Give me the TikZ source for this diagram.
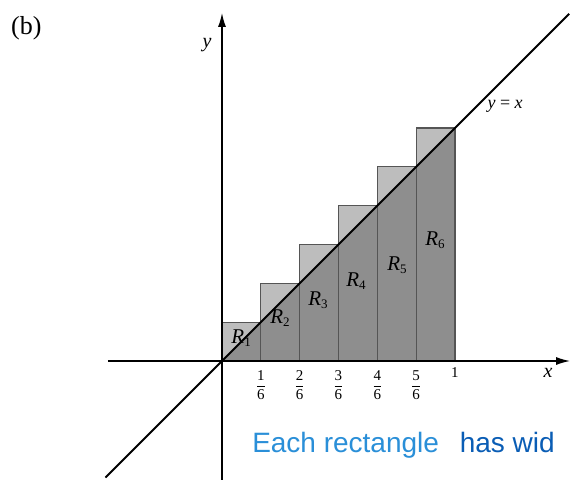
\documentclass[tikz,border=0pt]{standalone}
\usepackage{fontspec}
\setmainfont{Liberation Serif}
\newfontfamily\handfont{Liberation Sans}
\definecolor{darkfill}{HTML}{8E8E8E}
\definecolor{lightfill}{HTML}{BDBDBD}
\definecolor{rectline}{HTML}{555555}
\definecolor{penlight}{HTML}{2A8FD8}
\definecolor{pendark}{HTML}{0A5DB5}
\newcommand{\sixthfrac}[1]{$\displaystyle{\hbox{#1}\over\hbox{6}}$}
\begin{document}
\begin{tikzpicture}[x=233pt,y=233pt,
  axisline/.style={line width=1.4pt,-{Latex[length=14pt,width=8pt]}},
  diagline/.style={line width=1.8pt},
  rectedge/.style={draw=rectline,line width=1.2pt},
  rlabel/.style={font=\fontsize{21}{21}\selectfont,text=black,inner sep=0pt},
  ticklabel/.style={font=\fontsize{15}{18}\selectfont,inner sep=0pt},
  handtext/.style={font=\handfont\fontsize{28}{28}\selectfont,anchor=base west,inner sep=0pt}]
\usetikzlibrary{arrows.meta}
\clip (-0.9528,-0.5408) rectangle (1.4979,1.5494);
\fill[white] (-0.9528,-0.5408) rectangle (1.4979,1.5494);
% rectangles
\foreach \k in {1,...,6}{
  \pgfmathsetmacro{\a}{(\k-1)/6}
  \pgfmathsetmacro{\b}{\k/6}
  \fill[darkfill] (\a,0) -- (\b,0) -- (\b,\b) -- (\a,\a) -- cycle;
  \fill[lightfill] (\a,\a) -- (\a,\b) -- (\b,\b) -- cycle;
  \draw[rectedge] (\a,0) rectangle (\b,\b);
}
% axes
\coordinate (O) at (0,0);
\coordinate (xl) at (-0.49,0);
\coordinate (xr) at (1.494,0);
\coordinate (yb) at (0,-0.51);
\coordinate (yt) at (0,1.494);
\coordinate (dl) at (-0.5,-0.5);
\coordinate (dr) at (1.49,1.49);
\draw[axisline] (xl) -- (xr);
\draw[axisline] (yb) -- (yt);
\draw[diagline] (dl) -- (dr);
% labels
\node (b) at (-0.84,1.43) {\fontsize{26}{26}\selectfont (b)};
\node (ylab) at (-0.064,1.356) {\fontsize{20}{20}\selectfont\textit{y}};
\node (xlab) at (1.399,-0.052) {\fontsize{20}{20}\selectfont\textit{x}};
\node (yx) at (1.215,1.094) {\fontsize{18}{18}\selectfont\textit{y} = \textit{x}};
\foreach \k in {1,...,5}{
  \node[ticklabel] (t\k) at (\k/6,-0.103) {\sixthfrac{\k}};
}
\node[ticklabel] (t6) at (1,-0.05) {1};
\node[rlabel] (R1) at (0.082,0.099) {\textit{R}\raisebox{-0.35ex}{\fontsize{13}{13}\selectfont 1}};
\node[rlabel] (R2) at (0.249,0.185) {\textit{R}\raisebox{-0.35ex}{\fontsize{13}{13}\selectfont 2}};
\node[rlabel] (R3) at (0.412,0.262) {\textit{R}\raisebox{-0.35ex}{\fontsize{13}{13}\selectfont 3}};
\node[rlabel] (R4) at (0.575,0.343) {\textit{R}\raisebox{-0.35ex}{\fontsize{13}{13}\selectfont 4}};
\node[rlabel] (R5) at (0.751,0.412) {\textit{R}\raisebox{-0.35ex}{\fontsize{13}{13}\selectfont 5}};
\node[rlabel] (R6) at (0.914,0.519) {\textit{R}\raisebox{-0.35ex}{\fontsize{13}{13}\selectfont 6}};
% handwriting
\node[handtext,text=penlight] (h1) at (0.129,-0.392) {Each rectangle};
\node[handtext,text=pendark] (h2) at (1.02,-0.392) {has wid};
\end{tikzpicture}
\end{document}
